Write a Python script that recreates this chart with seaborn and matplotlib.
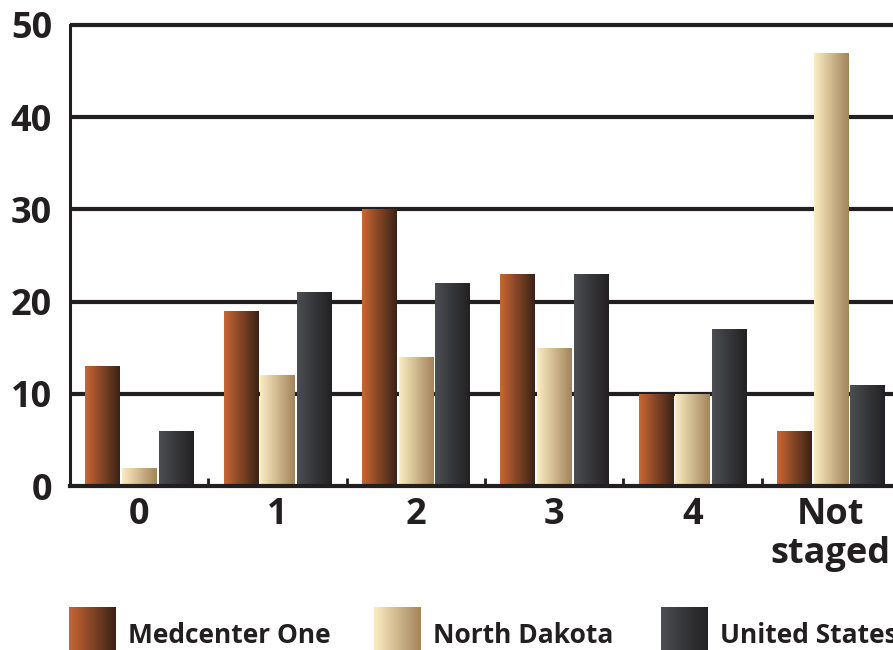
import numpy as np
import pandas as pd
import matplotlib
matplotlib.use("Agg")
import matplotlib.pyplot as plt
from matplotlib.colors import LinearSegmentedColormap
import seaborn as sns

# Share of cases by stage at diagnosis (%)
stages = ["0", "1", "2", "3", "4", "Not\nstaged"]
series_names = ["Medcenter One", "North Dakota", "United States"]
medcenter_one = [13, 19, 30, 23, 10, 6]
north_dakota = [2, 12, 14, 15, 10, 47]
united_states = [6, 21, 22, 23, 17, 11]
y_ticks = [0, 10, 20, 30, 40, 50]

# Left-to-right shading for each series
gradients = {
    "Medcenter One": ("#C96634", "#3A2216"),
    "North Dakota": ("#FCEDC3", "#A3835A"),
    "United States": ("#4B4E52", "#222022"),
}
ink = "#231F20"
weight = "bold"

df = pd.DataFrame({
    "stage": stages * 3,
    "series": [s for s in series_names for _ in stages],
    "value": medcenter_one + north_dakota + united_states,
})

sns.set_theme(style="white")
plt.rcParams["font.family"] = ["Open Sans", "DejaVu Sans"]
plt.rcParams["font.weight"] = weight

W, H = 893, 650
fig = plt.figure(figsize=(W / 100, H / 100), dpi=100)
ax = fig.add_axes([70 / W, (H - 486) / H, 830 / W, 461 / H])

mid_palette = {k: v[0] for k, v in gradients.items()}
sns.barplot(data=df, x="stage", y="value", hue="series", order=stages,
            hue_order=series_names, palette=mid_palette, width=0.795,
            gap=0.07, legend=False, ax=ax, zorder=3, linewidth=0)

grad = np.linspace(0, 1, 256).reshape(1, -1)
cmaps = {k: LinearSegmentedColormap.from_list(k, v) for k, v in gradients.items()}

# Replace the flat bar fills with horizontal gradients
n = len(stages)
for i, bar in enumerate(list(ax.patches)):
    name = series_names[i // n]
    x0, y0 = bar.get_x(), bar.get_y()
    w, h = bar.get_width(), bar.get_height()
    im = ax.imshow(grad, cmap=cmaps[name], aspect="auto",
                   extent=[x0, x0 + w, y0, y0 + h], zorder=3,
                   interpolation="bilinear")
    im.set_clip_path(bar)
    bar.set_facecolor("none")

ax.set_xlim(-0.5, n - 0.5)
ax.set_ylim(0, 50)

# Horizontal rules behind the bars
for yv in y_ticks[1:]:
    ax.axhline(yv, color=ink, lw=3.0, zorder=1, clip_on=False,
               solid_capstyle="butt")

for side in ["top", "right"]:
    ax.spines[side].set_visible(False)
ax.spines["left"].set_color(ink)
ax.spines["left"].set_linewidth(2.2)
ax.spines["bottom"].set_color(ink)
ax.spines["bottom"].set_linewidth(3.0)
ax.spines["bottom"].set_zorder(5)
ax.spines["left"].set_zorder(5)

ax.set_yticks(y_ticks)
ax.set_yticklabels([str(v) for v in y_ticks])
ax.set_xticks(range(n))
ax.set_xticklabels(stages, linespacing=1.1)
ax.set_xticks(np.arange(0.5, n - 0.5, 1.0), minor=True)
ax.tick_params(axis="x", which="major", length=0, pad=8, labelsize=26,
               labelcolor=ink)
ax.tick_params(axis="x", which="minor", direction="in", length=6,
               width=2.0, color=ink, bottom=True)
ax.tick_params(axis="y", length=0, pad=13, labelsize=26, labelcolor=ink)
for lab in ax.get_xticklabels() + ax.get_yticklabels():
    lab.set_fontweight(weight)
ax.set_xlabel("")
ax.set_ylabel("")

# Legend along the bottom edge
legend_x = [69, 374, 661]
for name, lx in zip(series_names, legend_x):
    lax = fig.add_axes([lx / W, 0, 47 / W, 43 / H])
    lax.imshow(grad, cmap=cmaps[name], aspect="auto",
               interpolation="bilinear")
    lax.set_axis_off()
    fig.text((lx + 59) / W, (H - 643) / H, name, fontsize=19,
             fontweight=weight, color=ink, ha="left", va="baseline")

fig.savefig("out.png", dpi=100)
